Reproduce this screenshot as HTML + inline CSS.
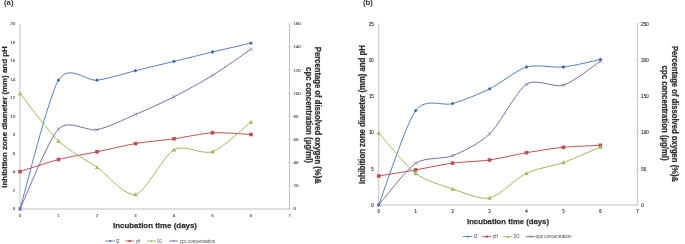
<!DOCTYPE html>
<html><head><meta charset="utf-8"><style>
html,body{margin:0;padding:0;background:#fff;}
body{width:685px;height:244px;overflow:hidden;}
svg{display:block;filter:blur(0.35px);}
</style></head><body>
<svg width="685" height="244" viewBox="0 0 685 244">
<style>
text{font-family:"Liberation Sans",Arial,sans-serif;}
.tk{font-size:5px;fill:#2a2a2a;stroke:#2a2a2a;stroke-width:0.15px;}
.tt{font-size:8.1px;font-weight:bold;fill:#2e2e2e;stroke:#2e2e2e;stroke-width:0.25px;}
.lab{font-size:7.8px;font-weight:bold;fill:#333;}
.lg{font-size:4.6px;fill:#404040;}
</style>
<rect width="685" height="244" fill="#fff"/>
<line x1="20.00" y1="24.00" x2="20.00" y2="209.00" stroke="#c2c2c2" stroke-width="1"/>
<line x1="289.50" y1="24.00" x2="289.50" y2="209.00" stroke="#c2c2c2" stroke-width="1"/>
<line x1="20.00" y1="209.00" x2="289.50" y2="209.00" stroke="#c2c2c2" stroke-width="1.2"/>
<text transform="translate(15.10,210.30) scale(1,0.8)" class="tk" style="font-size:4.4px;fill:#555;stroke:#555" text-anchor="end">0</text>
<text transform="translate(15.10,191.80) scale(1,0.8)" class="tk" style="font-size:4.4px;fill:#555;stroke:#555" text-anchor="end">2</text>
<text transform="translate(15.10,173.30) scale(1,0.8)" class="tk" style="font-size:4.4px;fill:#555;stroke:#555" text-anchor="end">4</text>
<text transform="translate(15.10,154.80) scale(1,0.8)" class="tk" style="font-size:4.4px;fill:#555;stroke:#555" text-anchor="end">6</text>
<text transform="translate(15.10,136.30) scale(1,0.8)" class="tk" style="font-size:4.4px;fill:#555;stroke:#555" text-anchor="end">8</text>
<text transform="translate(15.10,117.80) scale(1,0.8)" class="tk" style="font-size:4.4px;fill:#555;stroke:#555" text-anchor="end">10</text>
<text transform="translate(15.10,99.30) scale(1,0.8)" class="tk" style="font-size:4.4px;fill:#555;stroke:#555" text-anchor="end">12</text>
<text transform="translate(15.10,80.80) scale(1,0.8)" class="tk" style="font-size:4.4px;fill:#555;stroke:#555" text-anchor="end">14</text>
<text transform="translate(15.10,62.30) scale(1,0.8)" class="tk" style="font-size:4.4px;fill:#555;stroke:#555" text-anchor="end">16</text>
<text transform="translate(15.10,43.80) scale(1,0.8)" class="tk" style="font-size:4.4px;fill:#555;stroke:#555" text-anchor="end">18</text>
<text transform="translate(15.10,25.30) scale(1,0.8)" class="tk" style="font-size:4.4px;fill:#555;stroke:#555" text-anchor="end">20</text>
<line x1="288.00" y1="209.00" x2="291.00" y2="209.00" stroke="#c2c2c2" stroke-width="0.6"/>
<text transform="translate(293.50,210.30) scale(1,0.8)" class="tk" style="font-size:4.4px;fill:#555;stroke:#555" text-anchor="start">0</text>
<line x1="288.00" y1="185.88" x2="291.00" y2="185.88" stroke="#c2c2c2" stroke-width="0.6"/>
<text transform="translate(293.50,187.18) scale(1,0.8)" class="tk" style="font-size:4.4px;fill:#555;stroke:#555" text-anchor="start">20</text>
<line x1="288.00" y1="162.75" x2="291.00" y2="162.75" stroke="#c2c2c2" stroke-width="0.6"/>
<text transform="translate(293.50,164.05) scale(1,0.8)" class="tk" style="font-size:4.4px;fill:#555;stroke:#555" text-anchor="start">40</text>
<line x1="288.00" y1="139.62" x2="291.00" y2="139.62" stroke="#c2c2c2" stroke-width="0.6"/>
<text transform="translate(293.50,140.93) scale(1,0.8)" class="tk" style="font-size:4.4px;fill:#555;stroke:#555" text-anchor="start">60</text>
<line x1="288.00" y1="116.50" x2="291.00" y2="116.50" stroke="#c2c2c2" stroke-width="0.6"/>
<text transform="translate(293.50,117.80) scale(1,0.8)" class="tk" style="font-size:4.4px;fill:#555;stroke:#555" text-anchor="start">80</text>
<line x1="288.00" y1="93.38" x2="291.00" y2="93.38" stroke="#c2c2c2" stroke-width="0.6"/>
<text transform="translate(293.50,94.67) scale(1,0.8)" class="tk" style="font-size:4.4px;fill:#555;stroke:#555" text-anchor="start">100</text>
<line x1="288.00" y1="70.25" x2="291.00" y2="70.25" stroke="#c2c2c2" stroke-width="0.6"/>
<text transform="translate(293.50,71.55) scale(1,0.8)" class="tk" style="font-size:4.4px;fill:#555;stroke:#555" text-anchor="start">120</text>
<line x1="288.00" y1="47.12" x2="291.00" y2="47.12" stroke="#c2c2c2" stroke-width="0.6"/>
<text transform="translate(293.50,48.42) scale(1,0.8)" class="tk" style="font-size:4.4px;fill:#555;stroke:#555" text-anchor="start">140</text>
<line x1="288.00" y1="24.00" x2="291.00" y2="24.00" stroke="#c2c2c2" stroke-width="0.6"/>
<text transform="translate(293.50,25.30) scale(1,0.8)" class="tk" style="font-size:4.4px;fill:#555;stroke:#555" text-anchor="start">160</text>
<text transform="translate(20.00,216.60) scale(1,0.8)" class="tk" style="font-size:4.4px;fill:#555;stroke:#555" text-anchor="middle">0</text>
<text transform="translate(58.50,216.60) scale(1,0.8)" class="tk" style="font-size:4.4px;fill:#555;stroke:#555" text-anchor="middle">1</text>
<text transform="translate(97.00,216.60) scale(1,0.8)" class="tk" style="font-size:4.4px;fill:#555;stroke:#555" text-anchor="middle">2</text>
<text transform="translate(135.50,216.60) scale(1,0.8)" class="tk" style="font-size:4.4px;fill:#555;stroke:#555" text-anchor="middle">3</text>
<text transform="translate(174.00,216.60) scale(1,0.8)" class="tk" style="font-size:4.4px;fill:#555;stroke:#555" text-anchor="middle">4</text>
<text transform="translate(212.50,216.60) scale(1,0.8)" class="tk" style="font-size:4.4px;fill:#555;stroke:#555" text-anchor="middle">5</text>
<text transform="translate(251.00,216.60) scale(1,0.8)" class="tk" style="font-size:4.4px;fill:#555;stroke:#555" text-anchor="middle">6</text>
<text transform="translate(289.50,216.60) scale(1,0.8)" class="tk" style="font-size:4.4px;fill:#555;stroke:#555" text-anchor="middle">7</text>
<path d="M20.00,209.00 C25.13,191.83 48.23,97.37 58.50,80.20 C68.77,63.03 86.73,81.47 97.00,80.20 C107.27,78.93 125.23,73.21 135.50,70.70 C145.77,68.19 163.73,63.89 174.00,61.40 C184.27,58.91 202.23,54.44 212.50,52.00 C222.77,49.56 245.87,44.29 251.00,43.10" stroke="#5481bd" stroke-width="1.0" fill="none"/>
<path d="M20.00,207.11 L21.89,209.00 L20.00,210.89 L18.11,209.00 Z" fill="#3f6aa8"/>
<path d="M58.50,78.31 L60.39,80.20 L58.50,82.09 L56.61,80.20 Z" fill="#3f6aa8"/>
<path d="M97.00,78.31 L98.89,80.20 L97.00,82.09 L95.11,80.20 Z" fill="#3f6aa8"/>
<path d="M135.50,68.81 L137.39,70.70 L135.50,72.59 L133.61,70.70 Z" fill="#3f6aa8"/>
<path d="M174.00,59.51 L175.89,61.40 L174.00,63.29 L172.11,61.40 Z" fill="#3f6aa8"/>
<path d="M212.50,50.11 L214.39,52.00 L212.50,53.89 L210.61,52.00 Z" fill="#3f6aa8"/>
<path d="M251.00,41.21 L252.89,43.10 L251.00,44.99 L249.11,43.10 Z" fill="#3f6aa8"/>
<path d="M20.00,171.60 C25.13,169.99 48.23,162.14 58.50,159.50 C68.77,156.86 86.73,153.92 97.00,151.80 C107.27,149.68 125.23,145.33 135.50,143.60 C145.77,141.87 163.73,140.24 174.00,138.80 C184.27,137.36 202.23,133.37 212.50,132.80 C222.77,132.23 245.87,134.27 251.00,134.50" stroke="#be4f55" stroke-width="1.0" fill="none"/>
<rect x="18.20" y="169.80" width="3.60" height="3.60" fill="#be4f55"/>
<rect x="56.70" y="157.70" width="3.60" height="3.60" fill="#be4f55"/>
<rect x="95.20" y="150.00" width="3.60" height="3.60" fill="#be4f55"/>
<rect x="133.70" y="141.80" width="3.60" height="3.60" fill="#be4f55"/>
<rect x="172.20" y="137.00" width="3.60" height="3.60" fill="#be4f55"/>
<rect x="210.70" y="131.00" width="3.60" height="3.60" fill="#be4f55"/>
<rect x="249.20" y="132.70" width="3.60" height="3.60" fill="#be4f55"/>
<path d="M20.00,93.40 C25.13,99.75 48.23,131.15 58.50,141.00 C68.77,150.85 86.73,160.18 97.00,167.30 C107.27,174.42 125.23,196.76 135.50,194.40 C145.77,192.04 163.73,155.29 174.00,149.60 C184.27,143.91 202.23,155.38 212.50,151.70 C222.77,148.02 245.87,125.96 251.00,122.00" stroke="#9bba5e" stroke-width="1.0" fill="none"/>
<path d="M20.00,91.24 L22.16,95.20 L17.84,95.20 Z" fill="#9bba5e"/>
<path d="M58.50,138.84 L60.66,142.80 L56.34,142.80 Z" fill="#9bba5e"/>
<path d="M97.00,165.14 L99.16,169.10 L94.84,169.10 Z" fill="#9bba5e"/>
<path d="M135.50,192.24 L137.66,196.20 L133.34,196.20 Z" fill="#9bba5e"/>
<path d="M174.00,147.44 L176.16,151.40 L171.84,151.40 Z" fill="#9bba5e"/>
<path d="M212.50,149.54 L214.66,153.50 L210.34,153.50 Z" fill="#9bba5e"/>
<path d="M251.00,119.84 L253.16,123.80 L248.84,123.80 Z" fill="#9bba5e"/>
<path d="M20.00,209.00 C25.13,198.35 48.23,139.67 58.50,129.10 C68.77,118.53 86.73,131.65 97.00,129.70 C107.27,127.75 125.23,118.89 135.50,114.50 C145.77,110.11 163.73,102.01 174.00,96.80 C184.27,91.59 202.23,81.75 212.50,75.40 C222.77,69.05 245.87,52.69 251.00,49.20" stroke="#7f6ba2" stroke-width="1.0" fill="none"/>
<path d="M18.20,207.20 L21.80,210.80 M18.20,210.80 L21.80,207.20" stroke="#7f6ba2" stroke-width="0.6" fill="none"/>
<path d="M56.70,127.30 L60.30,130.90 M56.70,130.90 L60.30,127.30" stroke="#7f6ba2" stroke-width="0.6" fill="none"/>
<path d="M95.20,127.90 L98.80,131.50 M95.20,131.50 L98.80,127.90" stroke="#7f6ba2" stroke-width="0.6" fill="none"/>
<path d="M133.70,112.70 L137.30,116.30 M133.70,116.30 L137.30,112.70" stroke="#7f6ba2" stroke-width="0.6" fill="none"/>
<path d="M172.20,95.00 L175.80,98.60 M172.20,98.60 L175.80,95.00" stroke="#7f6ba2" stroke-width="0.6" fill="none"/>
<path d="M210.70,73.60 L214.30,77.20 M210.70,77.20 L214.30,73.60" stroke="#7f6ba2" stroke-width="0.6" fill="none"/>
<path d="M249.20,47.40 L252.80,51.00 M249.20,51.00 L252.80,47.40" stroke="#7f6ba2" stroke-width="0.6" fill="none"/>
<text class="tt" x="113.00" y="228.40" textLength="84.00" lengthAdjust="spacingAndGlyphs">Incubation time (days)</text>
<text class="tt" transform="translate(6.60,117.00) rotate(-90)" x="0" y="0" text-anchor="middle" textLength="141.40" lengthAdjust="spacingAndGlyphs" style="font-size:8.00px">Inhibition zone diameter (mm) and pH</text>
<text class="tt" transform="translate(314.60,115.30) rotate(90)" x="0" y="0" text-anchor="middle" textLength="137.00" lengthAdjust="spacingAndGlyphs" style="font-size:8.60px">Percentage of dissolved oxygen (%)&amp;</text>
<text class="tt" transform="translate(305.50,115.00) rotate(90)" x="0" y="0" text-anchor="middle" textLength="96.00" lengthAdjust="spacingAndGlyphs" style="font-size:8.60px">cpc concentration (µg/ml)</text>
<text class="lab" x="4.00" y="4.90">(a)</text>
<line x1="105.30" y1="241.00" x2="114.90" y2="241.00" stroke="#5481bd" stroke-width="0.9"/>
<path d="M110.10,239.84 L111.25,241.00 L110.10,242.16 L108.94,241.00 Z" fill="#3f6aa8"/>
<text class="lg" transform="translate(116.00,242.60) scale(1,1)" style="font-size:4.6px;fill:#444" textLength="3.40" lengthAdjust="spacingAndGlyphs">IZ</text>
<line x1="125.40" y1="241.00" x2="134.00" y2="241.00" stroke="#be4f55" stroke-width="0.9"/>
<rect x="128.60" y="239.90" width="2.20" height="2.20" fill="#be4f55"/>
<text class="lg" transform="translate(135.90,242.60) scale(1,1)" style="font-size:4.6px;fill:#444" textLength="4.20" lengthAdjust="spacingAndGlyphs">pH</text>
<line x1="147.00" y1="241.00" x2="156.00" y2="241.00" stroke="#9bba5e" stroke-width="0.9"/>
<path d="M151.50,239.68 L152.82,242.10 L150.18,242.10 Z" fill="#9bba5e"/>
<text class="lg" transform="translate(157.40,242.60) scale(1,1)" style="font-size:4.6px;fill:#444" textLength="4.20" lengthAdjust="spacingAndGlyphs">DO</text>
<line x1="169.20" y1="241.00" x2="178.00" y2="241.00" stroke="#7f6ba2" stroke-width="0.9"/>
<path d="M172.50,239.90 L174.70,242.10 M172.50,242.10 L174.70,239.90" stroke="#7f6ba2" stroke-width="0.6" fill="none"/>
<text class="lg" transform="translate(179.70,242.60) scale(1,1)" style="font-size:4.6px;fill:#444" textLength="35.50" lengthAdjust="spacingAndGlyphs">cpc concentration</text>
<line x1="378.70" y1="23.70" x2="378.70" y2="205.00" stroke="#c2c2c2" stroke-width="1"/>
<line x1="637.35" y1="23.70" x2="637.35" y2="205.00" stroke="#c2c2c2" stroke-width="1"/>
<line x1="378.70" y1="205.00" x2="637.35" y2="205.00" stroke="#c2c2c2" stroke-width="1.2"/>
<text transform="translate(373.80,207.00) scale(0.95,1)" class="tk" style="font-size:4.6px;fill:#333;stroke:#333" text-anchor="end">0</text>
<text transform="translate(373.80,170.74) scale(0.95,1)" class="tk" style="font-size:4.6px;fill:#333;stroke:#333" text-anchor="end">5</text>
<text transform="translate(373.80,134.48) scale(0.95,1)" class="tk" style="font-size:4.6px;fill:#333;stroke:#333" text-anchor="end">10</text>
<text transform="translate(373.80,98.22) scale(0.95,1)" class="tk" style="font-size:4.6px;fill:#333;stroke:#333" text-anchor="end">15</text>
<text transform="translate(373.80,61.96) scale(0.95,1)" class="tk" style="font-size:4.6px;fill:#333;stroke:#333" text-anchor="end">20</text>
<text transform="translate(373.80,25.70) scale(0.95,1)" class="tk" style="font-size:4.6px;fill:#333;stroke:#333" text-anchor="end">25</text>
<line x1="635.85" y1="205.00" x2="638.85" y2="205.00" stroke="#c2c2c2" stroke-width="0.6"/>
<text transform="translate(641.35,207.00) scale(0.95,1)" class="tk" style="font-size:4.6px;fill:#333;stroke:#333" text-anchor="start">0</text>
<line x1="635.85" y1="168.74" x2="638.85" y2="168.74" stroke="#c2c2c2" stroke-width="0.6"/>
<text transform="translate(641.35,170.74) scale(0.95,1)" class="tk" style="font-size:4.6px;fill:#333;stroke:#333" text-anchor="start">50</text>
<line x1="635.85" y1="132.48" x2="638.85" y2="132.48" stroke="#c2c2c2" stroke-width="0.6"/>
<text transform="translate(641.35,134.48) scale(0.95,1)" class="tk" style="font-size:4.6px;fill:#333;stroke:#333" text-anchor="start">100</text>
<line x1="635.85" y1="96.22" x2="638.85" y2="96.22" stroke="#c2c2c2" stroke-width="0.6"/>
<text transform="translate(641.35,98.22) scale(0.95,1)" class="tk" style="font-size:4.6px;fill:#333;stroke:#333" text-anchor="start">150</text>
<line x1="635.85" y1="59.96" x2="638.85" y2="59.96" stroke="#c2c2c2" stroke-width="0.6"/>
<text transform="translate(641.35,61.96) scale(0.95,1)" class="tk" style="font-size:4.6px;fill:#333;stroke:#333" text-anchor="start">200</text>
<line x1="635.85" y1="23.70" x2="638.85" y2="23.70" stroke="#c2c2c2" stroke-width="0.6"/>
<text transform="translate(641.35,25.70) scale(0.95,1)" class="tk" style="font-size:4.6px;fill:#333;stroke:#333" text-anchor="start">250</text>
<text transform="translate(378.70,213.30) scale(0.95,1)" class="tk" style="font-size:4.6px;fill:#333;stroke:#333" text-anchor="middle">0</text>
<text transform="translate(415.65,213.30) scale(0.95,1)" class="tk" style="font-size:4.6px;fill:#333;stroke:#333" text-anchor="middle">1</text>
<text transform="translate(452.60,213.30) scale(0.95,1)" class="tk" style="font-size:4.6px;fill:#333;stroke:#333" text-anchor="middle">2</text>
<text transform="translate(489.55,213.30) scale(0.95,1)" class="tk" style="font-size:4.6px;fill:#333;stroke:#333" text-anchor="middle">3</text>
<text transform="translate(526.50,213.30) scale(0.95,1)" class="tk" style="font-size:4.6px;fill:#333;stroke:#333" text-anchor="middle">4</text>
<text transform="translate(563.45,213.30) scale(0.95,1)" class="tk" style="font-size:4.6px;fill:#333;stroke:#333" text-anchor="middle">5</text>
<text transform="translate(600.40,213.30) scale(0.95,1)" class="tk" style="font-size:4.6px;fill:#333;stroke:#333" text-anchor="middle">6</text>
<text transform="translate(637.35,213.30) scale(0.95,1)" class="tk" style="font-size:4.6px;fill:#333;stroke:#333" text-anchor="middle">7</text>
<path d="M378.70,205.00 C383.63,192.41 405.80,124.12 415.65,110.60 C425.50,97.08 442.75,106.49 452.60,103.60 C462.45,100.71 479.70,93.78 489.55,88.90 C499.40,84.02 516.65,69.92 526.50,67.00 C536.35,64.08 553.60,68.00 563.45,67.00 C573.30,66.00 595.47,60.50 600.40,59.50" stroke="#5481bd" stroke-width="1.0" fill="none"/>
<path d="M378.70,203.11 L380.59,205.00 L378.70,206.89 L376.81,205.00 Z" fill="#3f6aa8"/>
<path d="M415.65,108.71 L417.54,110.60 L415.65,112.49 L413.76,110.60 Z" fill="#3f6aa8"/>
<path d="M452.60,101.71 L454.49,103.60 L452.60,105.49 L450.71,103.60 Z" fill="#3f6aa8"/>
<path d="M489.55,87.01 L491.44,88.90 L489.55,90.79 L487.66,88.90 Z" fill="#3f6aa8"/>
<path d="M526.50,65.11 L528.39,67.00 L526.50,68.89 L524.61,67.00 Z" fill="#3f6aa8"/>
<path d="M563.45,65.11 L565.34,67.00 L563.45,68.89 L561.56,67.00 Z" fill="#3f6aa8"/>
<path d="M600.40,57.61 L602.29,59.50 L600.40,61.39 L598.51,59.50 Z" fill="#3f6aa8"/>
<path d="M378.70,176.00 C383.63,175.19 405.80,171.62 415.65,169.90 C425.50,168.18 442.75,164.42 452.60,163.10 C462.45,161.78 479.70,161.39 489.55,160.00 C499.40,158.61 516.65,154.39 526.50,152.70 C536.35,151.01 553.60,148.29 563.45,147.30 C573.30,146.31 595.47,145.57 600.40,145.30" stroke="#be4f55" stroke-width="1.0" fill="none"/>
<rect x="376.90" y="174.20" width="3.60" height="3.60" fill="#be4f55"/>
<rect x="413.85" y="168.10" width="3.60" height="3.60" fill="#be4f55"/>
<rect x="450.80" y="161.30" width="3.60" height="3.60" fill="#be4f55"/>
<rect x="487.75" y="158.20" width="3.60" height="3.60" fill="#be4f55"/>
<rect x="524.70" y="150.90" width="3.60" height="3.60" fill="#be4f55"/>
<rect x="561.65" y="145.50" width="3.60" height="3.60" fill="#be4f55"/>
<rect x="598.60" y="143.50" width="3.60" height="3.60" fill="#be4f55"/>
<path d="M378.70,133.00 C383.63,138.39 405.80,165.95 415.65,173.40 C425.50,180.85 442.75,185.62 452.60,188.90 C462.45,192.18 479.70,200.09 489.55,198.00 C499.40,195.91 516.65,177.93 526.50,173.20 C536.35,168.47 553.60,165.99 563.45,162.50 C573.30,159.01 595.47,149.07 600.40,147.00" stroke="#9bba5e" stroke-width="1.0" fill="none"/>
<path d="M378.70,130.84 L380.86,134.80 L376.54,134.80 Z" fill="#9bba5e"/>
<path d="M415.65,171.24 L417.81,175.20 L413.49,175.20 Z" fill="#9bba5e"/>
<path d="M452.60,186.74 L454.76,190.70 L450.44,190.70 Z" fill="#9bba5e"/>
<path d="M489.55,195.84 L491.71,199.80 L487.39,199.80 Z" fill="#9bba5e"/>
<path d="M526.50,171.04 L528.66,175.00 L524.34,175.00 Z" fill="#9bba5e"/>
<path d="M563.45,160.34 L565.61,164.30 L561.29,164.30 Z" fill="#9bba5e"/>
<path d="M600.40,144.84 L602.56,148.80 L598.24,148.80 Z" fill="#9bba5e"/>
<path d="M378.70,205.00 C383.63,199.44 405.80,169.87 415.65,163.30 C425.50,156.73 442.75,159.61 452.60,155.70 C462.45,151.79 479.70,143.52 489.55,134.00 C499.40,124.48 516.65,90.82 526.50,84.30 C536.35,77.78 553.60,88.17 563.45,85.10 C573.30,82.03 595.47,64.47 600.40,61.30" stroke="#7f6ba2" stroke-width="1.0" fill="none"/>
<path d="M376.90,203.20 L380.50,206.80 M376.90,206.80 L380.50,203.20" stroke="#7f6ba2" stroke-width="0.6" fill="none"/>
<path d="M413.85,161.50 L417.45,165.10 M413.85,165.10 L417.45,161.50" stroke="#7f6ba2" stroke-width="0.6" fill="none"/>
<path d="M450.80,153.90 L454.40,157.50 M450.80,157.50 L454.40,153.90" stroke="#7f6ba2" stroke-width="0.6" fill="none"/>
<path d="M487.75,132.20 L491.35,135.80 M487.75,135.80 L491.35,132.20" stroke="#7f6ba2" stroke-width="0.6" fill="none"/>
<path d="M524.70,82.50 L528.30,86.10 M524.70,86.10 L528.30,82.50" stroke="#7f6ba2" stroke-width="0.6" fill="none"/>
<path d="M561.65,83.30 L565.25,86.90 M561.65,86.90 L565.25,83.30" stroke="#7f6ba2" stroke-width="0.6" fill="none"/>
<path d="M598.60,59.50 L602.20,63.10 M598.60,63.10 L602.20,59.50" stroke="#7f6ba2" stroke-width="0.6" fill="none"/>
<text class="tt" x="467.00" y="224.00" textLength="82.00" lengthAdjust="spacingAndGlyphs">Incubation time (days)</text>
<text class="tt" transform="translate(365.30,114.60) rotate(-90)" x="0" y="0" text-anchor="middle" textLength="138.80" lengthAdjust="spacingAndGlyphs" style="font-size:8.20px">Inhibition zone diameter (mm) and pH</text>
<text class="tt" transform="translate(671.80,114.00) rotate(90)" x="0" y="0" text-anchor="middle" textLength="136.00" lengthAdjust="spacingAndGlyphs" style="font-size:8.60px">Percentage of dissolved oxygen (%)&amp;</text>
<text class="tt" transform="translate(661.80,113.10) rotate(90)" x="0" y="0" text-anchor="middle" textLength="95.00" lengthAdjust="spacingAndGlyphs" style="font-size:8.60px">cpc concentration (µg/ml)</text>
<text class="lab" x="363.00" y="4.90">(b)</text>
<line x1="462.90" y1="236.60" x2="472.50" y2="236.60" stroke="#5481bd" stroke-width="0.9"/>
<path d="M467.70,235.44 L468.85,236.60 L467.70,237.75 L466.55,236.60 Z" fill="#3f6aa8"/>
<text class="lg" transform="translate(473.90,238.20) scale(1,1)" style="font-size:4.6px;fill:#444" textLength="3.40" lengthAdjust="spacingAndGlyphs">IZ</text>
<line x1="482.10" y1="236.60" x2="491.40" y2="236.60" stroke="#be4f55" stroke-width="0.9"/>
<rect x="485.65" y="235.50" width="2.20" height="2.20" fill="#be4f55"/>
<text class="lg" transform="translate(492.70,238.20) scale(1,1)" style="font-size:4.6px;fill:#444" textLength="5.20" lengthAdjust="spacingAndGlyphs">pH</text>
<line x1="503.20" y1="236.60" x2="512.80" y2="236.60" stroke="#9bba5e" stroke-width="0.9"/>
<path d="M508.00,235.28 L509.32,237.70 L506.68,237.70 Z" fill="#9bba5e"/>
<text class="lg" transform="translate(513.70,238.20) scale(1,1)" style="font-size:4.6px;fill:#444" textLength="5.60" lengthAdjust="spacingAndGlyphs">DO</text>
<line x1="525.90" y1="236.60" x2="535.60" y2="236.60" stroke="#7f6ba2" stroke-width="0.9"/>
<path d="M529.65,235.50 L531.85,237.70 M529.65,237.70 L531.85,235.50" stroke="#7f6ba2" stroke-width="0.6" fill="none"/>
<text class="lg" transform="translate(535.90,238.20) scale(1,1)" style="font-size:4.6px;fill:#444" textLength="35.60" lengthAdjust="spacingAndGlyphs">cpc concentration</text>
</svg>
</body></html>
